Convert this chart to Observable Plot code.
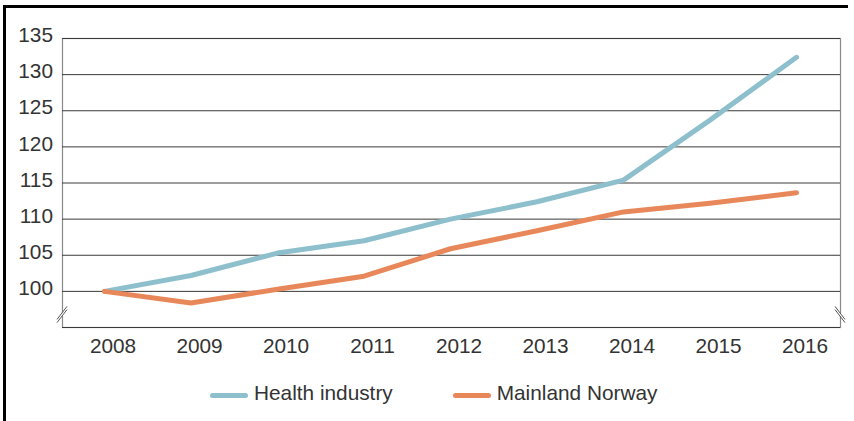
<!DOCTYPE html>
<html>
<head>
<meta charset="utf-8">
<script src="https://cdn.jsdelivr.net/npm/d3@7"></script>
<script src="https://cdn.jsdelivr.net/npm/@observablehq/plot@0.6"></script>
<style>
  html, body { margin: 0; padding: 0; background: #fff; }
  #wrap { position: relative; width: 854px; height: 421px; overflow: hidden; font-family: "Liberation Sans", Arial, sans-serif; }
  #frame { position: absolute; left: 3px; top: 5px; width: 842px; height: 430px; border-top: 3px solid #000; border-left: 3px solid #000; }
  #chart { position: absolute; left: 0; top: 0; }
  #legend { position: absolute; left: 210px; top: 382px; display: flex; align-items: center; font-size: 20.8px; line-height: 22px; color: #333; white-space: nowrap; }
  .item { display: flex; align-items: center; }
  .sw { display: inline-block; width: 38px; height: 5px; border-radius: 3px; margin-right: 6px; margin-top: 4px; }
</style>
</head>
<body>
<div id="wrap">
  <div id="frame"></div>
  <div id="chart"></div>
  <div id="legend"></div>
</div>
<script>
const years = [2008, 2009, 2010, 2011, 2012, 2013, 2014, 2015, 2016];
const healthIndustry = [100, 102.2, 105.3, 107.0, 110.0, 112.4, 115.4, 123.7, 132.4];
const mainlandNorway = [100, 98.4, 100.3, 102.1, 105.9, 108.4, 111.0, 112.2, 113.65];
const seriesNames = ["Health industry", "Mainland Norway"];
const seriesColors = ["#8dbfcc", "#e8885a"];
const yTicks = [100, 105, 110, 115, 120, 125, 130, 135];
const yFrame = [95, 135];

const data = [];
years.forEach((yr, i) => {
  data.push({year: yr, value: healthIndustry[i], series: seriesNames[0]});
  data.push({year: yr, value: mainlandNorway[i], series: seriesNames[1]});
});

const W = 854, H = 370;
const chart = Plot.plot({
  width: W,
  height: H,
  marginLeft: 62,
  marginRight: 14,
  marginTop: 38,
  marginBottom: 43,
  style: {fontFamily: "'Liberation Sans', Arial, sans-serif", fontSize: "20.8px", background: "transparent", color: "#333", overflow: "visible"},
  x: {domain: [2008, 2016], range: [104, 796], axis: null},
  y: {domain: yFrame, axis: null},
  color: {domain: seriesNames, range: seriesColors},
  marks: [
    Plot.frame({stroke: "#8a8a8a", strokeWidth: 1.2}),
    Plot.ruleY(yTicks.concat(yFrame), {stroke: "#3a3a3a", strokeWidth: 1}),
    Plot.text(yTicks, {y: d => d, frameAnchor: "left", text: d => String(d), textAnchor: "end", dx: -9.5, dy: -3, fill: "#333", fontSize: 20.8}),
    Plot.text(years, {x: d => d, frameAnchor: "bottom", text: d => String(d), lineAnchor: "top", dx: 8.5, dy: 10.5, fill: "#333", fontSize: 20.8}),
    Plot.line(data, {x: "year", y: "value", z: "series", stroke: "series", strokeWidth: 5, strokeLinecap: "round", strokeLinejoin: "round"})
  ]
});
document.getElementById("chart").appendChild(chart);

// axis break marks on left and right frame edges
const svg = d3.select(chart);
const yb = H - 43 - 12.5;
function breakMark(x0, dir) {
  const g = svg.append("g");
  g.append("rect").attr("x", x0 - 2).attr("y", yb - 1.5).attr("width", 4).attr("height", 3).attr("fill", "#fff");
  [-1.6, 1.6].forEach(o => {
    g.append("line")
      .attr("x1", x0 - 5).attr("y1", yb + o + 6.5 * dir)
      .attr("x2", x0 + 5).attr("y2", yb + o - 6.5 * dir)
      .attr("stroke", "#555").attr("stroke-width", 1);
  });
}
breakMark(62, 1);
breakMark(W - 14, -1);

// legend
const legend = document.getElementById("legend");
seriesNames.forEach((name, i) => {
  const item = document.createElement("div");
  item.className = "item";
  if (i > 0) item.style.marginLeft = "60px";
  const sw = document.createElement("span");
  sw.className = "sw";
  sw.style.background = seriesColors[i];
  const label = document.createElement("span");
  label.textContent = name;
  item.appendChild(sw);
  item.appendChild(label);
  legend.appendChild(item);
});
</script>
</body>
</html>
